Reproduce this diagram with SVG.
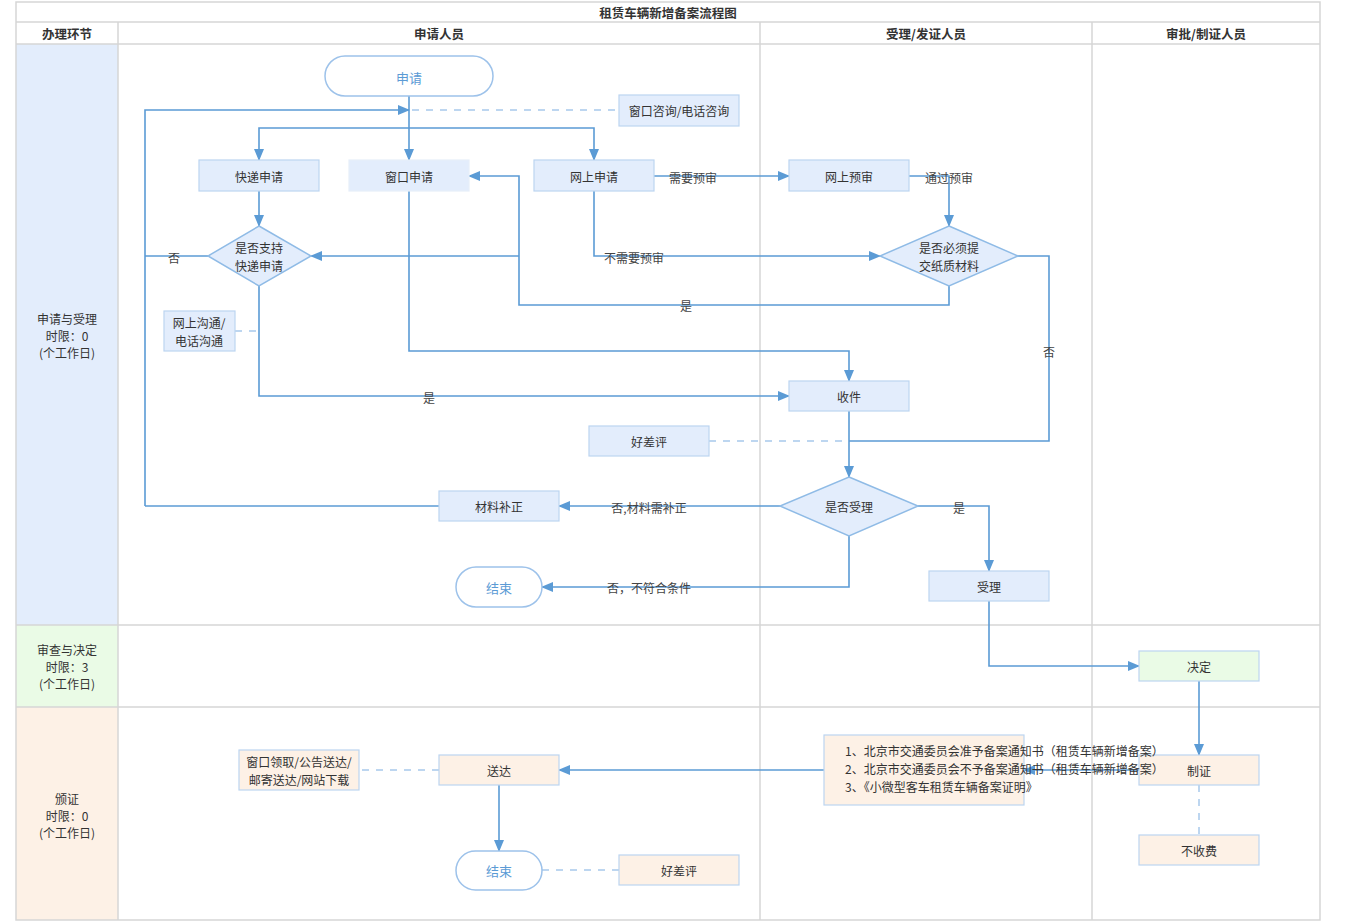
<svg xmlns="http://www.w3.org/2000/svg" width="1350" height="924" viewBox="0 0 1350 924">
<defs>
<marker id="ah" markerUnits="userSpaceOnUse" markerWidth="12" markerHeight="10" refX="11" refY="5" orient="auto"><path d="M0,0 L12,5 L0,10 Z" fill="#5b9bd5"/></marker>
<style>
text{font-family:"Noto Sans CJK SC","Noto Sans",sans-serif;font-size:12px;fill:#333;text-anchor:middle;dominant-baseline:central}
.hd{font-weight:bold;font-size:12.5px}
.grid{stroke:#d6d6d6;stroke-width:1.5;fill:none}
.n1{fill:#e3edfc;stroke:#bcd5f1;stroke-width:1.2}
.n2{fill:#eafbe6;stroke:#bcd5f1;stroke-width:1.2}
.n3{fill:#fdf1e6;stroke:#bcd5f1;stroke-width:1.2}
.term{fill:#fff;stroke:#9dc2ea;stroke-width:1.5}
.tt{fill:#5b9bd5;font-size:13px}
.c{stroke:#5b9bd5;stroke-width:1.6;fill:none}
.ca{stroke:#5b9bd5;stroke-width:1.6;fill:none;marker-end:url(#ah)}
.d{stroke:#a8c9ec;stroke-width:1.5;fill:none;stroke-dasharray:7 7}
.lb{fill:#444}
</style>
</defs>
<rect x="0" y="0" width="1350" height="924" fill="#fff"/>
<g id="table">
<rect x="16" y="44" width="102" height="581" fill="#e3edfc"/>
<rect x="16" y="625" width="102" height="82" fill="#eafbe6"/>
<rect x="16" y="707" width="102" height="213" fill="#fdf1e6"/>
<rect class="grid" x="16" y="2" width="1304" height="918"/>
<line class="grid" x1="16" y1="22" x2="1320" y2="22"/>
<line class="grid" x1="16" y1="44" x2="1320" y2="44"/>
<line class="grid" x1="16" y1="625" x2="1320" y2="625"/>
<line class="grid" x1="16" y1="707" x2="1320" y2="707"/>
<line class="grid" x1="118" y1="22" x2="118" y2="920"/>
<line class="grid" x1="760" y1="22" x2="760" y2="920"/>
<line class="grid" x1="1092" y1="22" x2="1092" y2="920"/>
<text class="hd" x="668" y="12">租赁车辆新增备案流程图</text>
<text class="hd" x="67" y="33">办理环节</text>
<text class="hd" x="439" y="33">申请人员</text>
<text class="hd" x="926" y="33">受理/发证人员</text>
<text class="hd" x="1206" y="33">审批/制证人员</text>
<text x="67" y="318">申请与受理</text>
<text x="67" y="335">时限：0</text>
<text x="67" y="352">(个工作日)</text>
<text x="67" y="649">审查与决定</text>
<text x="67" y="666">时限：3</text>
<text x="67" y="683">(个工作日)</text>
<text x="67" y="798">颁证</text>
<text x="67" y="815">时限：0</text>
<text x="67" y="832">(个工作日)</text>
</g>
<g id="connectors">
<path class="ca" d="M409,96 L409,160"/>
<path class="ca" d="M409,128 L259,128 L259,160"/>
<path class="ca" d="M409,128 L594,128 L594,160"/>
<path class="ca" d="M145,506 L145,110 L409,110"/>
<path class="c" d="M208,256 L145,256"/>
<path class="c" d="M439,506 L145,506"/>
<path class="d" d="M412,110 L619,110"/>
<path class="ca" d="M259,191 L259,226"/>
<path class="ca" d="M409,191 L409,351 L849,351 L849,381"/>
<path class="ca" d="M654,176 L789,176"/>
<path class="ca" d="M909,176 L949,176 L949,226"/>
<path class="ca" d="M594,191 L594,256 L880,256"/>
<path class="ca" d="M949,286 L949,305 L519,305 L519,176 L469,176"/>
<path class="ca" d="M519,256 L311,256"/>
<path class="c" d="M1018,256 L1049,256 L1049,441 L849,441"/>
<path class="ca" d="M259,286 L259,396 L789,396"/>
<path class="ca" d="M849,411 L849,477"/>
<path class="d" d="M709,441 L849,441"/>
<path class="ca" d="M780,506 L559,506"/>
<path class="ca" d="M849,536 L849,587 L542,587"/>
<path class="ca" d="M918,506 L989,506 L989,571"/>
<path class="ca" d="M989,601 L989,666 L1139,666"/>
<path class="ca" d="M1199,681 L1199,755"/>
<path class="ca" d="M1139,770 L1024,770"/>
<path class="ca" d="M824,770 L559,770"/>
<path class="ca" d="M499,785 L499,851"/>
<path class="d" d="M1199,785 L1199,835"/>
<path class="d" d="M439,770 L359,770"/>
<path class="d" d="M542,870 L619,870"/>
<path class="d" d="M235,331 L259,331"/>
<text class="lb" x="174" y="257">否</text>
<text class="lb" x="693" y="177">需要预审</text>
<text class="lb" x="949" y="177">通过预审</text>
<text class="lb" x="634" y="257">不需要预审</text>
<text class="lb" x="686" y="305">是</text>
<text class="lb" x="1049" y="351">否</text>
<text class="lb" x="429" y="397">是</text>
<text class="lb" x="649" y="507">否,材料需补正</text>
<text class="lb" x="649" y="587">否，不符合条件</text>
<text class="lb" x="959" y="507">是</text>
</g>
<g id="n-start"><rect class="term" x="325" y="56" width="168" height="40" rx="20"/><text class="tt" x="409" y="77">申请</text></g>
<g id="n-consult"><rect class="n1" x="619" y="95" width="120" height="31"/><text x="679" y="110">窗口咨询/电话咨询</text></g>
<g id="n-express"><rect class="n1" x="199" y="160" width="120" height="31"/><text x="259" y="176">快递申请</text></g>
<g id="n-window"><rect class="n1" x="349" y="160" width="120" height="31" style="stroke:#e6eef9"/><text x="409" y="176">窗口申请</text></g>
<g id="n-online"><rect class="n1" x="534" y="160" width="120" height="31"/><text x="594" y="176">网上申请</text></g>
<g id="n-precheck"><rect class="n1" x="789" y="160" width="120" height="31"/><text x="849" y="176">网上预审</text></g>
<g id="n-dec1"><polygon class="n1" points="259,226 311,256 259,286 208,256" style="stroke:#8fbbe6;stroke-width:1.5"/><text x="259" y="247">是否支持</text><text x="259" y="265">快递申请</text></g>
<g id="n-dec2"><polygon class="n1" points="949,226 1018,256 949,286 880,256" style="stroke:#8fbbe6;stroke-width:1.5"/><text x="949" y="247">是否必须提</text><text x="949" y="265">交纸质材料</text></g>
<g id="n-comm"><rect class="n1" x="164" y="311" width="71" height="40"/><text x="199" y="322">网上沟通/</text><text x="199" y="340">电话沟通</text></g>
<g id="n-receive"><rect class="n1" x="789" y="381" width="120" height="30"/><text x="849" y="396">收件</text></g>
<g id="n-eval1"><rect class="n1" x="589" y="426" width="120" height="30"/><text x="649" y="441">好差评</text></g>
<g id="n-dec3"><polygon class="n1" points="849,477 918,506 849,536 780,506" style="stroke:#8fbbe6;stroke-width:1.5"/><text x="849" y="506">是否受理</text></g>
<g id="n-supp"><rect class="n1" x="439" y="491" width="120" height="30"/><text x="499" y="506">材料补正</text></g>
<g id="n-end1"><rect class="term" x="456" y="567" width="86" height="40" rx="20"/><text class="tt" x="499" y="587">结束</text></g>
<g id="n-accept"><rect class="n1" x="929" y="571" width="120" height="30"/><text x="989" y="586">受理</text></g>
<g id="n-decide"><rect class="n2" x="1139" y="651" width="120" height="30"/><text x="1199" y="666">决定</text></g>
<g id="n-make"><rect class="n3" x="1139" y="755" width="120" height="30"/><text x="1199" y="770">制证</text></g>
<g id="n-free"><rect class="n3" x="1139" y="835" width="120" height="30"/><text x="1199" y="850">不收费</text></g>
<g id="n-docs"><rect class="n3" x="824" y="735" width="200" height="70"/>
<text x="845" y="750" style="text-anchor:start">1、北京市交通委员会准予备案通知书（租赁车辆新增备案）</text>
<text x="845" y="768" style="text-anchor:start">2、北京市交通委员会不予备案通知书（租赁车辆新增备案）</text>
<text x="845" y="786" style="text-anchor:start">3、《小微型客车租赁车辆备案证明》</text></g>
<g id="n-deliver"><rect class="n3" x="439" y="755" width="120" height="30"/><text x="499" y="770">送达</text></g>
<g id="n-ways"><rect class="n3" x="239" y="750" width="120" height="40"/><text x="299" y="761">窗口领取/公告送达/</text><text x="299" y="779">邮寄送达/网站下载</text></g>
<g id="n-end2"><rect class="term" x="456" y="851" width="86" height="39" rx="19.5"/><text class="tt" x="499" y="870">结束</text></g>
<g id="n-eval2"><rect class="n3" x="619" y="855" width="120" height="30"/><text x="679" y="870">好差评</text></g>
</svg>
